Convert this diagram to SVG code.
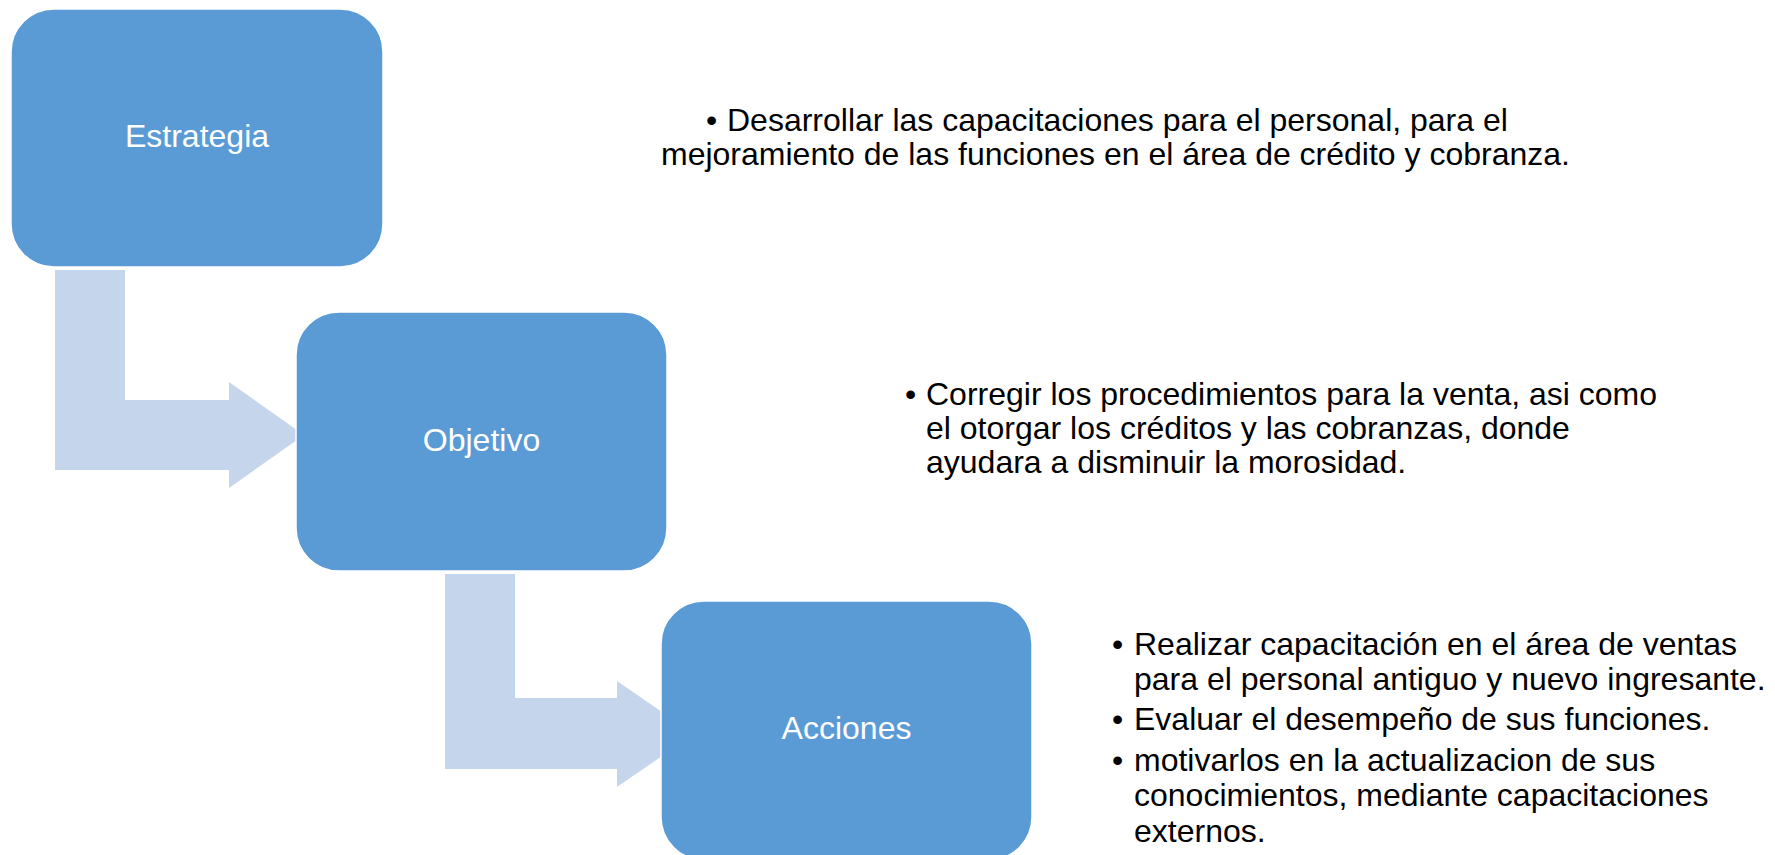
<svg xmlns="http://www.w3.org/2000/svg" width="1775" height="855" viewBox="0 0 1775 855">
<style>
.box{fill:#5B9BD5;stroke:#FFFFFF;stroke-width:1.5}
.arrow{fill:#C5D5EB;stroke:none}
.lbl{font-family:"Liberation Sans",Arial,sans-serif;font-size:32px;fill:#FFFFFF;text-anchor:middle}
.desc{font-family:"Liberation Sans",Arial,sans-serif;font-size:32px;fill:#000000}
</style>
<rect width="1775" height="855" fill="#FFFFFF"/>
<g id="connectors">
<polygon class="arrow" points="55,270 125,270 125,400 229,400 229,382 304,435 229,488 229,470 55,470"/>
<polygon class="arrow" points="445,574 515,574 515,698 617,698 617,681 694,734 617,787 617,769 445,769"/>
</g>
<g id="node-estrategia">
<rect class="box" x="11" y="9" width="372" height="258" rx="43" ry="43"/>
<text class="lbl" x="197" y="147">Estrategia</text>
</g>
<g id="node-objetivo">
<rect class="box" x="296" y="312" width="371" height="259" rx="43" ry="43"/>
<text class="lbl" x="481.5" y="451">Objetivo</text>
</g>
<g id="node-acciones">
<rect class="box" x="661" y="601" width="371" height="259" rx="43" ry="43"/>
<text class="lbl" x="846.5" y="739">Acciones</text>
</g>
<g id="text-estrategia">
<text class="desc" x="706" y="131">•</text>
<text class="desc" x="727" y="131">Desarrollar las capacitaciones para el personal, para el</text>
<text class="desc" x="661" y="165">mejoramiento de las funciones en el área de crédito y cobranza.</text>
</g>
<g id="text-objetivo">
<text class="desc" x="905" y="405">•</text>
<text class="desc" x="926" y="405">Corregir los procedimientos para la venta, asi como</text>
<text class="desc" x="926" y="439">el otorgar los créditos y las cobranzas, donde</text>
<text class="desc" x="926" y="473">ayudara a disminuir la morosidad.</text>
</g>
<g id="text-acciones">
<text class="desc" x="1112" y="655">•</text>
<text class="desc" x="1134" y="655">Realizar capacitación en el área de ventas</text>
<text class="desc" x="1134" y="690">para el personal antiguo y nuevo ingresante.</text>
<text class="desc" x="1112" y="730">•</text>
<text class="desc" x="1134" y="730">Evaluar el desempeño de sus funciones.</text>
<text class="desc" x="1112" y="771">•</text>
<text class="desc" x="1134" y="771">motivarlos en la actualizacion de sus</text>
<text class="desc" x="1134" y="806">conocimientos, mediante capacitaciones</text>
<text class="desc" x="1134" y="842">externos.</text>
</g>
</svg>
